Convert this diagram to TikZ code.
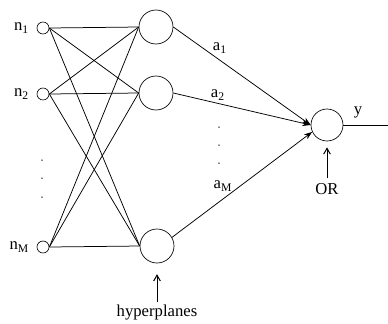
\documentclass[tikz,border=0pt]{standalone}
\usepackage{fontspec}
\setmainfont{Liberation Serif}
\usetikzlibrary{positioning,arrows.meta}

\begin{document}
\begin{tikzpicture}[x=0.6pt, y=-0.6pt, every node/.style={font=\normalsize},
    inunit/.style={draw, circle, inner sep=0pt, minimum size=7.2pt},
    hidunit/.style={draw, circle, inner sep=0pt, minimum size=20.4pt},
    link/.style={line width=0.45pt},
    wlink/.style={line width=0.45pt, -{Stealth[length=5pt, width=3.5pt]}},
    tag/.style={->, line width=0.6pt, >={Straight Barb[length=3.5pt, width=4pt]}}]
  \useasboundingbox (0,0) rectangle (388,323);

  % input units
  \node[inunit] (n1) at (43,28) {};
  \node[inunit] (n2) at (43,94) {};
  \node[inunit] (nM) at (43,247) {};
  \node[left=1pt of n1] (ln1) {n\textsubscript{1}};
  \node[left=1pt of n2] (ln2) {n\textsubscript{2}};
  \node[left=1pt of nM] (lnM) {n\textsubscript{M}};
  \foreach \yy in {160,178,197} \fill (42,\yy) circle (0.45pt);

  % hyperplane units
  \node[hidunit] (h1) at (156,27) {};
  \node[hidunit] (h2) at (156,93) {};
  \node[hidunit] (h3) at (157,246) {};

  % OR unit
  \node[draw, circle, inner sep=0pt, minimum size=19.2pt] (or) at (327,125) {};
  \coordinate (yend) at (388,125);

  \foreach \i in {n1,n2,nM}
    \foreach \j in {h1,h2,h3}
      \draw[link] (\i.east) -- (\j.west);

  \draw[wlink] (h1.east) -- (or.west);
  \draw[wlink] (h2.east) -- (or.west);
  \draw[wlink] (h3.30) -- (or.205);
  \draw[link] (or.east) -- (yend);

  \node (a1) at (220,48) {a\textsubscript{1}};
  \node (a2) at (218,95) {a\textsubscript{2}};
  \node (aM) at (223,186) {a\textsubscript{M}};
  \foreach \yy in {127,145,163} \fill (219,\yy) circle (0.45pt);
  \node (y) at (358,112) {y};

  \node[inner sep=1pt] (hyp) at (157,313) {hyperplanes};
  \node[inner sep=1pt] (ort) at (327,189) {OR};
  \draw[tag, shorten <=1pt, shorten >=6.5pt] (hyp) -- (h3);
  \draw[tag, shorten <=2pt, shorten >=3.6pt] (ort) -- (or);
\end{tikzpicture}
\end{document}
